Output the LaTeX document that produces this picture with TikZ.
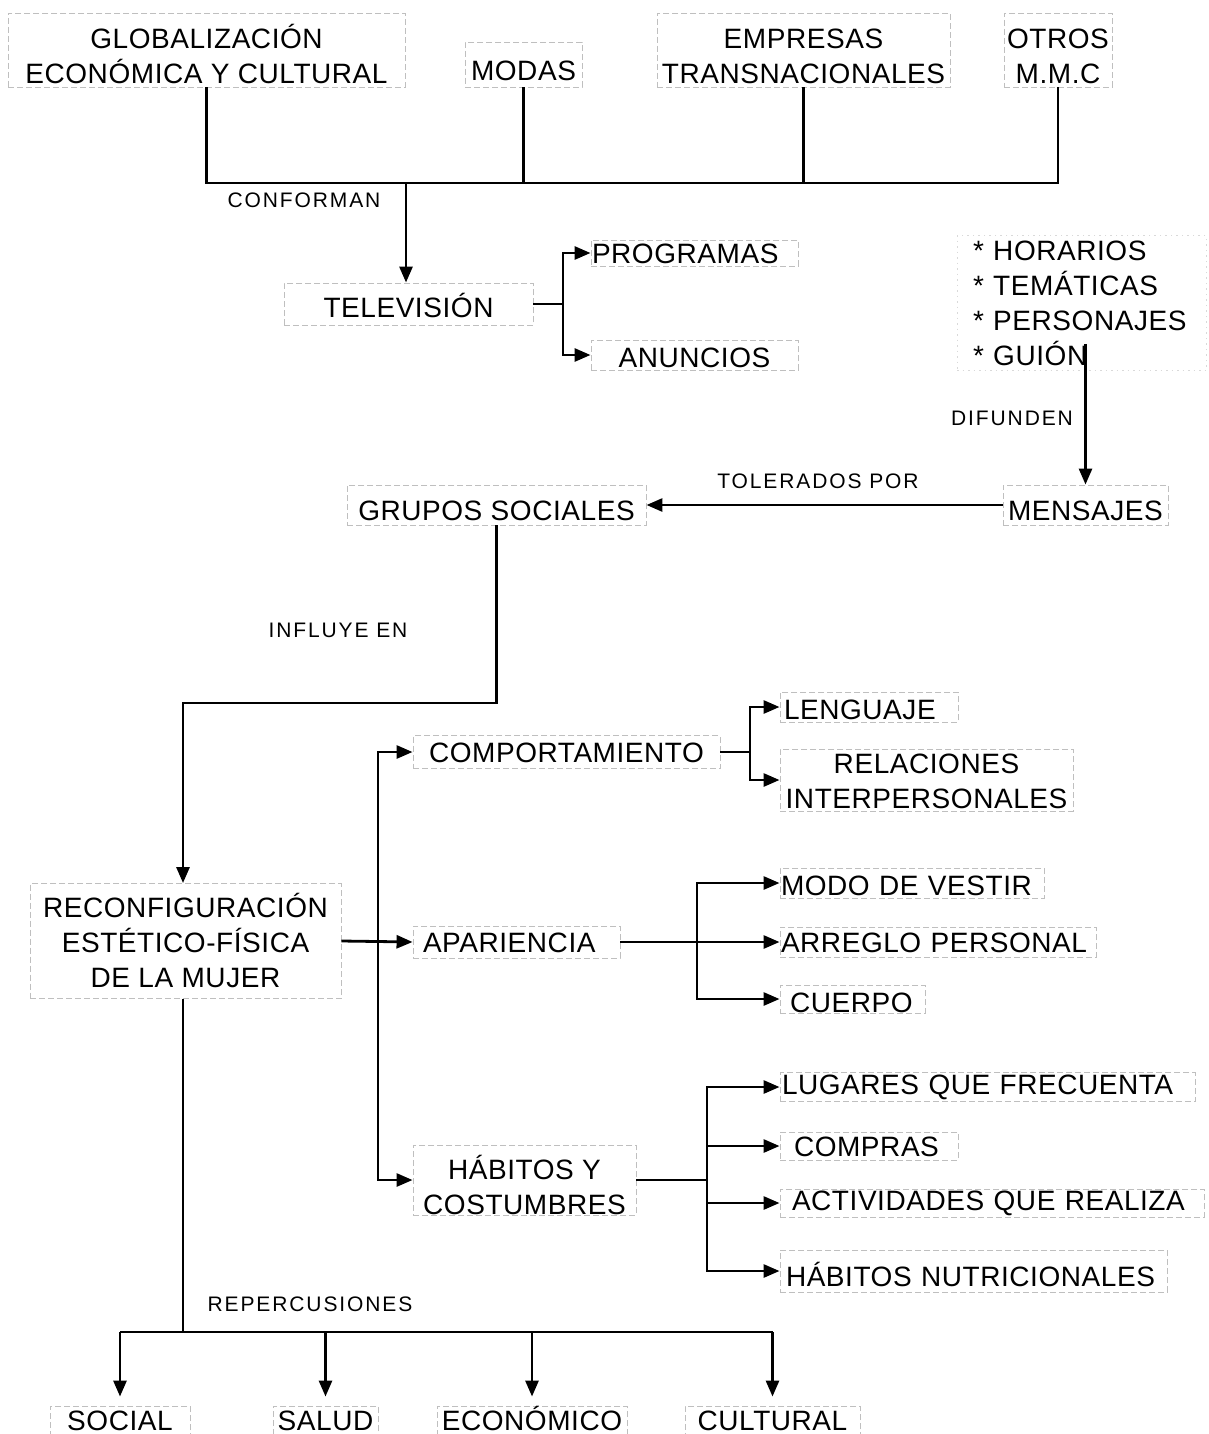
\documentclass[tikz,border=0pt]{standalone}
\usepackage{fontspec}
\setmainfont{Liberation Sans}
\newfontfamily\boxfont[LetterSpace=2]{Liberation Sans}
\newfontfamily\labfont[LetterSpace=9]{Liberation Sans}
\usetikzlibrary{arrows.meta}
\tikzset{
  box/.style={draw=gray!50, dash pattern=on 6pt off 3pt, line width=0.9pt,
    inner xsep=3pt, inner ysep=0pt, text height=20.5pt,
    font=\boxfont\fontsize{28}{35}\selectfont, align=center},
  lbox/.style={box, align=left},
  lbl/.style={font=\labfont\fontsize{21}{25}\selectfont, inner sep=0pt},
  conn/.style={line width=2.8pt, draw=black},
  arr/.style={conn, -{Triangle[length=16pt,width=13pt]}},
}
\begin{document}
\begin{tikzpicture}[x=1pt, y=-1pt]
\fill[white] (0,0) rectangle (1208,1434);
\useasboundingbox (0,0) rectangle (1208,1434);

% top row
\node[box, text height=66.5pt, text depth=0pt, minimum width=397pt, minimum height=74pt] (glob) at (206.5,50) {GLOBALIZACIÓN\\ECONÓMICA Y CULTURAL};
\node[box, text height=31.5pt, text depth=0pt, minimum width=117pt, minimum height=45pt] (modas) at (523.5,64.5) {MODAS};
\node[box, text height=66.5pt, text depth=0pt, minimum width=293pt, minimum height=74pt] (emp) at (803.5,50) {EMPRESAS\\TRANSNACIONALES};
\node[box, text height=66.5pt, text depth=0pt, inner xsep=1pt, minimum width=108pt, minimum height=74pt] (otros) at (1058,50) {OTROS\\M.M.C};

\node[box, text height=26.5pt, text depth=0pt, minimum width=249pt, minimum height=42pt] (tv) at (408.5,304) {TELEVISIÓN};
\node[lbox, inner xsep=1pt, text width=205pt, minimum height=26pt] (prog) at (694.5,253) {PROGRAMAS};
\node[box, text height=24.5pt, text depth=0pt, minimum width=207pt, minimum height=30pt] (anun) at (694.5,355) {ANUNCIOS};
\node[lbox, draw=gray!30, dash pattern=on 1.5pt off 4pt, inner xsep=16pt, text width=217pt, minimum height=135pt] (list) at (1081.5,303)
  {* HORARIOS\\{}* TEMÁTICAS\\{}* PERSONAJES\\{}* GUIÓN};

\node[box, text height=30.5pt, text depth=0pt, minimum width=165pt, minimum height=40pt] (mens) at (1085.5,505) {MENSAJES};
\node[box, text height=30.5pt, text depth=0pt, minimum width=299pt, minimum height=40pt] (grupos) at (496.5,505) {GRUPOS SOCIALES};

\node[box, text height=92.5pt, text depth=0pt, minimum width=311pt, minimum height=115pt] (reconf) at (185.5,941) {RECONFIGURACIÓN\\ESTÉTICO-FÍSICA\\DE LA MUJER};

\node[box, minimum width=307pt, minimum height=33pt] (comp) at (566.5,752) {COMPORTAMIENTO};
\node[lbox, text height=24.5pt, text depth=0pt, inner xsep=4pt, text width=170pt, minimum height=30pt] (leng) at (869,707) {LENGUAJE};
\node[box, text height=56.5pt, text depth=0pt, minimum width=293pt, minimum height=62pt] (rel) at (926.5,780) {RELACIONES\\INTERPERSONALES};

\node[lbox, inner xsep=10pt, text width=187pt, minimum height=32pt] (apar) at (516.5,942) {APARIENCIA};
\node[lbox, text height=24.5pt, text depth=0pt, inner xsep=1pt, text width=262pt, minimum height=30pt] (modo) at (912,883) {MODO DE VESTIR};
\node[lbox, inner xsep=1pt, text width=314pt, minimum height=30pt] (arreglo) at (938,942) {ARREGLO PERSONAL};
\node[lbox, text height=26.5pt, text depth=0pt, inner xsep=10pt, text width=125pt, minimum height=28pt] (cuerpo) at (852.5,999) {CUERPO};

\node[box, text height=68.5pt, text depth=0pt, minimum width=223pt, minimum height=70pt] (habitos) at (524.5,1180) {HÁBITOS Y\\COSTUMBRES};
\node[lbox, inner xsep=2pt, text width=411pt, minimum height=29pt] (lug) at (987.5,1087) {LUGARES QUE FRECUENTA};
\node[lbox, inner xsep=14pt, text width=150pt, minimum height=28pt] (compras) at (869,1146) {COMPRAS};
\node[lbox, inner xsep=12pt, text width=400pt, minimum height=28pt] (act) at (992,1203) {ACTIVIDADES QUE REALIZA};
\node[lbox, text height=30.5pt, text depth=0pt, inner xsep=6pt, text width=375pt, minimum height=42pt] (nut) at (973.5,1271) {HÁBITOS NUTRICIONALES};

\node[box, minimum width=140pt, minimum height=28pt] (social) at (120,1420) {SOCIAL};
\node[box, minimum width=105pt, minimum height=28pt] (salud) at (325.5,1420) {SALUD};
\node[box, minimum width=190pt, minimum height=28pt] (econ) at (532,1420) {ECONÓMICO};
\node[box, minimum width=175pt, minimum height=28pt] (cult) at (772.5,1420) {CULTURAL};

% labels
\node[lbl] (l1) at (304,200) {CONFORMAN};
\node[lbl] (l2) at (818,481) {TOLERADOS POR};
\node[lbl] (l3) at (1012,418) {DIFUNDEN};
\node[lbl] (l4) at (338,630) {INFLUYE EN};
\node[lbl] (l5) at (310,1304) {REPERCUSIONES};

% connectors
\coordinate (bus) at (406,183);
\draw[conn] (glob.south) |- (bus) -| (otros.south);
\draw[conn] (modas.south) -- (modas.south |- bus);
\draw[conn] (emp.south) -- (emp.south |- bus);
\draw[arr] (bus) -- (tv.north -| bus);

\coordinate (tvj) at (563,304);
\draw[conn] (tv.east) -- (tvj);
\draw[arr] (tvj) |- (prog.west);
\draw[arr] (tvj) |- (anun.west);

\draw[arr] ([yshift=27pt]list.south -| mens.north) -- (mens.north);
\draw[arr] (mens.west) -- (grupos.east);

\coordinate (infl) at (183,703);
\draw[arr] (grupos.south) |- (infl) -- (reconf.north -| infl);

\draw[arr] (reconf.east) -- (apar.west);
\coordinate (vb) at (378,941);
\draw[arr] (habitos.west -| vb) |- (comp.west);
\draw[arr] (comp.west -| vb) |- (habitos.west);

\coordinate (cj) at (750,752);
\draw[conn] (comp.east) -- (cj);
\draw[arr] (cj) |- (leng.west);
\draw[arr] (cj) |- (rel.west);

\coordinate (aj) at (697,942);
\draw[arr] (apar.east) -- (arreglo.west);
\draw[arr] (aj) |- (modo.west);
\draw[arr] (aj) |- (cuerpo.west);

\coordinate (hj) at (707,1180);
\draw[conn] (habitos.east) -- (hj);
\draw[arr] (hj) |- (lug.west);
\draw[arr] (hj) |- (compras.west);
\draw[arr] (hj) |- (act.west);
\draw[arr] (hj) |- (nut.west);

\coordinate (rb) at (183,1332);
\draw[conn] (reconf.south -| rb) -- (rb);
\draw[conn] (social.north |- rb) -- (cult.north |- rb);
\foreach \n in {social,salud,econ,cult}
  \draw[arr, shorten >=9pt] (\n.north |- rb) -- (\n.north);
\end{tikzpicture}
\end{document}
